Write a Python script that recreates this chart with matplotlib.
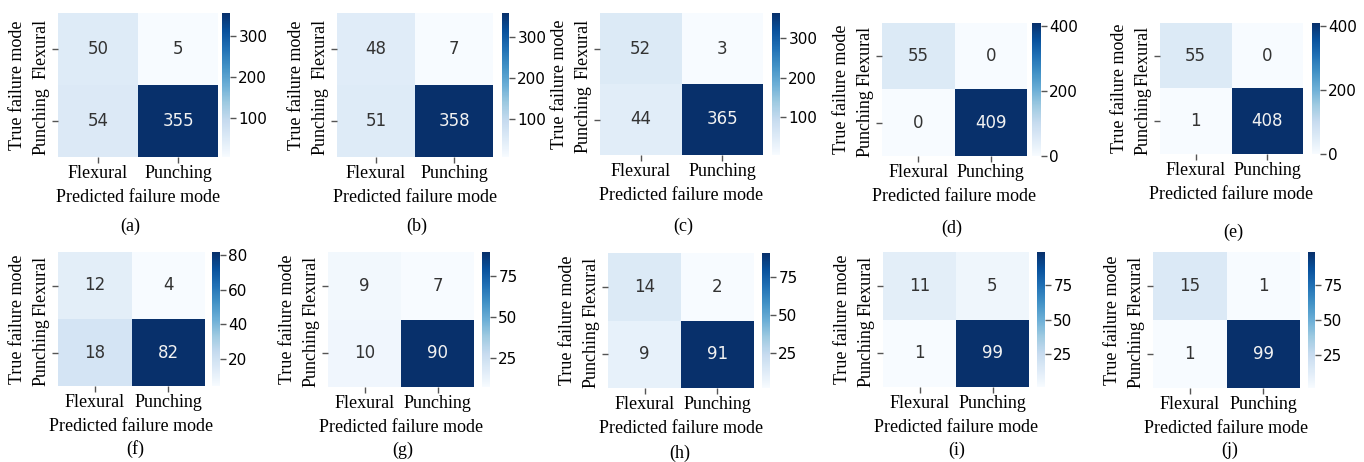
import numpy as np
import matplotlib.pyplot as plt
from matplotlib import colors

# confusion matrices, rows = true (Flexural, Punching), cols = predicted
cm_a = [[50, 5], [54, 355]]
cm_b = [[48, 7], [51, 358]]
cm_c = [[52, 3], [44, 365]]
cm_d = [[55, 0], [0, 409]]
cm_e = [[55, 0], [1, 408]]
cm_f = [[12, 4], [18, 82]]
cm_g = [[9, 7], [10, 90]]
cm_h = [[14, 2], [9, 91]]
cm_i = [[11, 5], [1, 99]]
cm_j = [[15, 1], [1, 99]]

matrices = [cm_a, cm_b, cm_c, cm_d, cm_e, cm_f, cm_g, cm_h, cm_i, cm_j]
captions = ['(a)', '(b)', '(c)', '(d)', '(e)', '(f)', '(g)', '(h)', '(i)', '(j)']
class_names = ['Flexural', 'Punching']

cbar_ticks = [[100, 200, 300]] * 3 + [[0, 200, 400]] * 2 + \
             [[20, 40, 60, 80]] + [[25, 50, 75]] * 4

# panel geometry in pixels: heatmap x0, x1, y0, y1 and colorbar x0, x1
W, H = 1364, 462
boxes = [
    (58, 218, 13, 157, 222, 230),
    (337, 493, 13, 157, 502, 509),
    (600, 763, 13, 155, 772, 780),
    (882, 1027, 23, 156, 1032, 1041),
    (1160, 1303, 23, 154, 1312, 1320),
    (58, 205, 252, 386, 212, 220),
    (328, 474, 252, 387, 482, 490),
    (608, 754, 253, 388, 762, 770),
    (883, 1029, 252, 387, 1037, 1045),
    (1153, 1300, 252, 388, 1308, 1315),
]
caption_pos = [(130, 226), (417, 226), (683, 226), (952, 228), (1233, 232),
               (135, 449), (403, 450), (680, 453), (957, 450), (1230, 450)]

serif = ['Liberation Serif', 'DejaVu Serif']
sans = ['DejaVu Sans']

fig = plt.figure(figsize=(W / 100, H / 100), dpi=100)
cmap = plt.get_cmap('Blues')


def rect(x0, x1, y0, y1):
    return [x0 / W, 1 - y1 / H, (x1 - x0) / W, (y1 - y0) / H]


for cm, cap, ticks, box, cpos in zip(matrices, captions, cbar_ticks, boxes, caption_pos):
    data = np.array(cm)
    hx0, hx1, hy0, hy1, cx0, cx1 = box
    ax = fig.add_axes(rect(hx0, hx1, hy0, hy1))
    cax = fig.add_axes(rect(cx0, cx1, hy0, hy1))

    norm = colors.Normalize(vmin=data.min(), vmax=data.max())
    im = ax.pcolormesh(data, cmap=cmap, norm=norm)
    ax.set_xlim(0, 2)
    ax.set_ylim(2, 0)
    for r in range(2):
        for c in range(2):
            v = data[r, c]
            rgb = cmap(norm(v))[:3]
            lum = 0.2126 * rgb[0] + 0.7152 * rgb[1] + 0.0722 * rgb[2]
            ax.text(c + 0.5, r + 0.5, str(v), ha='center', va='center',
                    fontsize=12, family=sans,
                    color='#f2f2f2' if lum < 0.408 else '#333333')

    ax.set_xticks([0.5, 1.5])
    ax.set_yticks([0.5, 1.5])
    ax.set_xticklabels(class_names, family=serif, fontsize=13)
    ax.set_yticklabels(class_names, family=serif, fontsize=13,
                       rotation=90, va='center')
    ax.tick_params(length=4, width=1, color='#555555', pad=2)
    ax.set_xlabel('Predicted failure mode', family=serif, fontsize=13, labelpad=5)
    ax.set_ylabel('True failure mode', family=serif, fontsize=13, labelpad=5)
    for s in ax.spines.values():
        s.set_visible(False)

    cb = fig.colorbar(im, cax=cax)
    cb.set_ticks(ticks)
    cb.outline.set_visible(False)
    cax.tick_params(length=4, width=1, color='#555555', labelsize=11, pad=2)
    for t in cax.get_yticklabels():
        t.set_family(sans)

    fig.text(cpos[0] / W, 1 - cpos[1] / H, cap, ha='center', va='center',
             family=serif, fontsize=13)

fig.savefig('out.png', dpi=100)
